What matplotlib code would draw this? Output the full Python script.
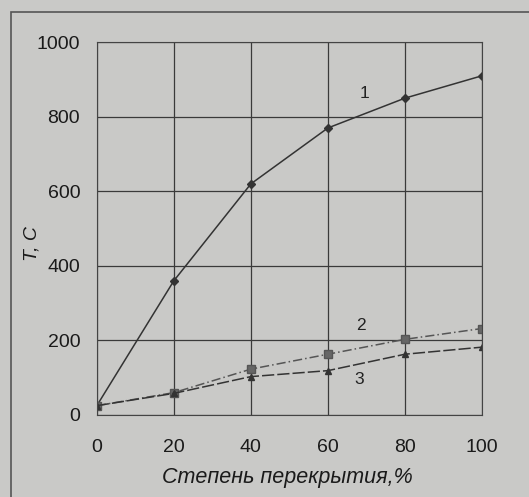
import matplotlib
matplotlib.use("Agg")
import matplotlib.pyplot as plt
from matplotlib.patches import Rectangle

plt.rcParams['font.family'] = ['Liberation Sans', 'DejaVu Sans']

x = [0, 20, 40, 60, 80, 100]
t1 = [25, 360, 620, 770, 850, 910]
t2 = [25, 60, 123, 163, 203, 232]
t3 = [25, 58, 103, 119, 163, 182]

xticks = [0, 20, 40, 60, 80, 100]
yticks = [0, 200, 400, 600, 800, 1000]

bg = '#c9c9c7'
fig = plt.figure(figsize=(5.29, 4.97), dpi=100, facecolor=bg)
ax = fig.add_axes([0.183, 0.165, 0.728, 0.75], facecolor=bg)

# рамка вокруг рисунка
fig.patches.append(Rectangle((0.02, -0.1), 1.2, 1.075, transform=fig.transFigure,
                             fill=False, edgecolor='#555555', linewidth=1.2))

ax.plot(x, t1, color='#333333', linewidth=1.1, marker='D', markersize=4)
ax.plot(x, t2, color='#555555', linewidth=1.1, linestyle=(0, (6, 2, 1, 2)),
        marker='s', markersize=5.5, markerfacecolor='#666666')
ax.plot(x, t3, color='#333333', linewidth=1.1, linestyle=(0, (8, 2)),
        marker='^', markersize=5)

ax.text(69.5, 863, '1', fontsize=12.5, color='#222222', ha='center', va='center')
ax.text(68.5, 241, '2', fontsize=12.5, color='#222222', ha='center', va='center')
ax.text(68, 94, '3', fontsize=12.5, color='#222222', ha='center', va='center')

ax.set_xlim(0, 100)
ax.set_ylim(0, 1000)
ax.set_xticks(xticks)
ax.set_yticks(yticks)
ax.grid(True, color='#3a3a3a', linewidth=0.9)
for s in ax.spines.values():
    s.set_color('#444444')
ax.tick_params(axis='x', labelsize=14, length=0, pad=17, colors='#1a1a1a')
ax.tick_params(axis='y', labelsize=14, length=0, pad=12, colors='#1a1a1a')

ax.set_xlabel('Степень перекрытия,%', fontsize=15.5, style='italic', color='#1a1a1a')
ax.xaxis.set_label_coords(0.494, -0.14)
ax.set_ylabel('T, C', fontsize=14, style='italic', color='#1a1a1a')
ax.yaxis.set_label_coords(-0.145, 0.46)

fig.savefig('out.png', dpi=100, facecolor=bg)
